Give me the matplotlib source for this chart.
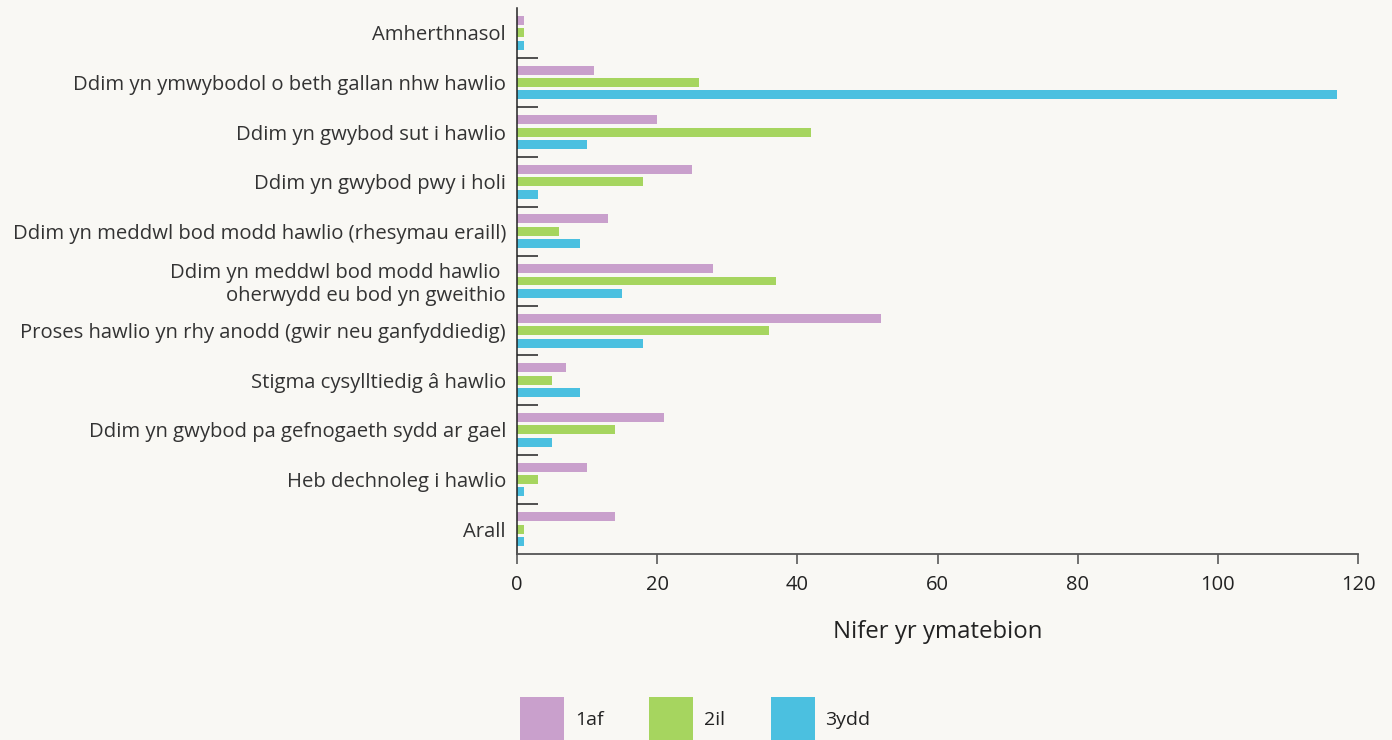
import matplotlib
matplotlib.use("Agg")
import matplotlib.pyplot as plt
import numpy as np
from matplotlib.patches import Patch

categories = [
    "Amherthnasol",
    "Ddim yn ymwybodol o beth gallan nhw hawlio",
    "Ddim yn gwybod sut i hawlio",
    "Ddim yn gwybod pwy i holi",
    "Ddim yn meddwl bod modd hawlio (rhesymau eraill)",
    "Ddim yn meddwl bod modd hawlio \noherwydd eu bod yn gweithio",
    "Proses hawlio yn rhy anodd (gwir neu ganfyddiedig)",
    "Stigma cysylltiedig â hawlio",
    "Ddim yn gwybod pa gefnogaeth sydd ar gael",
    "Heb dechnoleg i hawlio",
    "Arall",
]
first = [1, 11, 20, 25, 13, 28, 52, 7, 21, 10, 14]
second = [1, 26, 42, 18, 6, 37, 36, 5, 14, 3, 1]
third = [1, 117, 10, 3, 9, 15, 18, 9, 5, 1, 1]
series_names = ["1af", "2il", "3ydd"]
colors = ["#c9a0cc", "#a6d55f", "#4bc0e0"]
xticks = [0, 20, 40, 60, 80, 100, 120]

bg = "#f9f8f4"
plt.rcParams["font.family"] = ["Open Sans", "DejaVu Sans"]

fig = plt.figure(figsize=(13.92, 7.40), dpi=100, facecolor=bg)
ax = fig.add_axes([517/1392, 1-554/740, (1358-517)/1392, (554-8)/740])
ax.set_facecolor(bg)

y = np.arange(len(categories))
h = 0.18
step = 0.25
for i, (vals, c, n) in enumerate(zip([first, second, third], colors, series_names)):
    ax.barh(y + (i - 1) * step, vals, height=h, color=c, label=n)

ax.set_ylim(len(categories) - 0.5, -0.5)
ax.set_xlim(0, 120)
ax.set_xticks(xticks)
ax.set_yticks(y)
ax.set_yticklabels(categories, fontsize=14.6, color="#333333", ha="right", linespacing=1.15)
ax.set_yticks(np.arange(len(categories) - 1) + 0.5, minor=True)
ax.tick_params(axis="y", which="major", length=0, pad=8)
ax.tick_params(axis="y", which="minor", direction="in", length=15, width=1.1, color="#222222")
ax.tick_params(axis="x", which="major", length=7, width=1.3, color="#666666",
               labelsize=14.5, labelcolor="#222222", pad=8)
for s in ["top", "right"]:
    ax.spines[s].set_visible(False)
ax.spines["left"].set_color("#222222")
ax.spines["left"].set_linewidth(1.1)
ax.spines["bottom"].set_color("#555555")
ax.spines["bottom"].set_linewidth(1.3)
ax.set_xlabel("Nifer yr ymatebion", fontsize=17.3, color="#222222", labelpad=18)

handles = [Patch(facecolor=c, edgecolor="none") for c in colors]
fig.legend(handles, series_names, loc="upper left", bbox_to_anchor=(520/1392, 1-697/740),
           ncol=3, frameon=False, fontsize=14, handlelength=2.27, handleheight=3.1,
           handletextpad=0.55, columnspacing=2.35, borderpad=0, borderaxespad=0,
           labelcolor="#222222")

fig.savefig("out.png", dpi=100, facecolor=bg)
